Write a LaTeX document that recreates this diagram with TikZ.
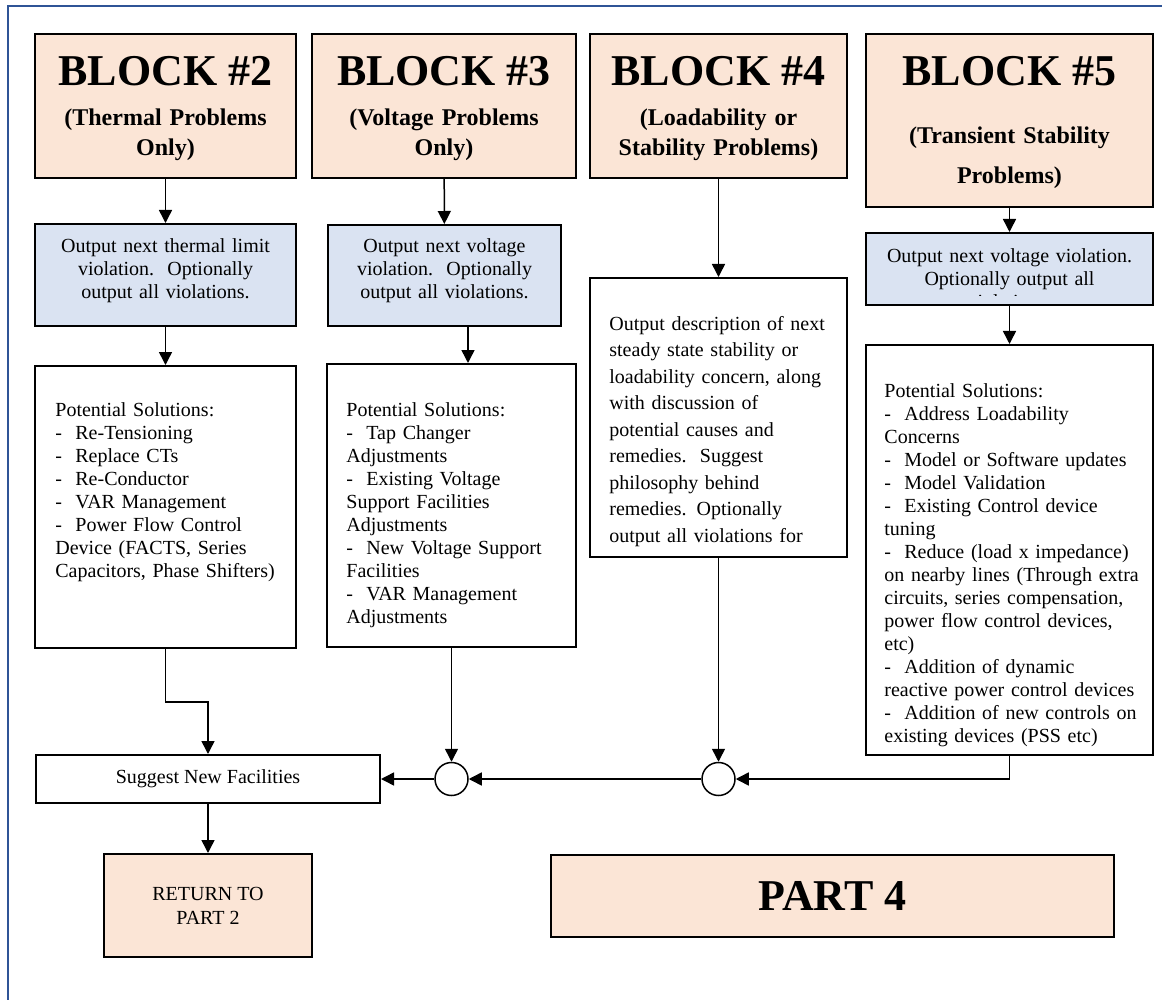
\documentclass[tikz,border=0pt]{standalone}
\usepackage{fontspec}
\setmainfont{Liberation Serif}
\usetikzlibrary{arrows.meta}
\definecolor{peche}{RGB}{251,229,214}
\definecolor{bleuclair}{RGB}{218,227,242}
\definecolor{cadre}{RGB}{47,84,150}

\begin{document}
\begin{tikzpicture}[x=0.5pt,y=-0.5pt]
	\tikzstyle{lien}=[->,line width=0.75pt]
	\tikzset{>={Triangle[length=6.5pt,width=6.5pt]}}
	\tikzset{boite/.style={draw,rectangle,line width=1pt,inner sep=0pt},bloc/.style={boite,fill=peche},sortie/.style={boite,fill=bleuclair}}
	\tikzset{texte/.style={inner sep=0pt,text width=#1,font=\fontsize{10}{11.5}\selectfont},texte/.default={125pt}}
	\tikzset{titre/.style={inner sep=0pt,font=\fontsize{22}{26}\selectfont\bfseries},soustitre/.style={inner sep=0pt,align=center,text width=135pt,font=\fontsize{12}{15}\selectfont\bfseries}}
	\tikzset{rond/.style={draw,circle,line width=0.75pt,fill=white,minimum size=16.5pt,inner sep=0pt}}
	\useasboundingbox (0,0) rectangle (1162,1000);
	\draw[cadre,line width=1pt] (7.5,1000) -- (7.5,6) -- (1162,6);
	\node[bloc,minimum width=130.5pt,minimum height=72pt] (b2) at (165.5,106) {};
	\node[bloc,minimum width=132pt,minimum height=72pt] (b3) at (444,106) {};
	\node[bloc,minimum width=128.5pt,minimum height=72pt] (b4) at (718.5,106) {};
	\node[bloc,minimum width=143.5pt,minimum height=86.5pt] (b5) at (1009.5,120.5) {};
	\node[sortie,minimum width=130.5pt,minimum height=51pt] (o2) at (165.5,275) {};
	\node[sortie,minimum width=116.5pt,minimum height=50.5pt] (o3) at (444.5,275.5) {};
	\node[sortie,minimum width=143.5pt,minimum height=36pt] (o5) at (1009.5,269) {};
	\node[boite,minimum width=130.5pt,minimum height=141pt] (s2) at (165.5,507) {};
	\node[boite,minimum width=124.5pt,minimum height=141.5pt] (s3) at (451.5,505.5) {};
	\node[boite,minimum width=128.5pt,minimum height=139.5pt] (s4) at (718.5,417.5) {};
	\node[boite,minimum width=143.5pt,minimum height=205pt] (s5) at (1009.5,550) {};
	\node[boite,minimum width=172pt,minimum height=24pt,font=\fontsize{10}{11.5}\selectfont] (f1) at (208,779) {Suggest New Facilities};
	\node[bloc,minimum width=104pt,minimum height=51.5pt,align=center,font=\fontsize{10}{12}\selectfont] (r1) at (208,905.5) {RETURN TO\\PART 2};
	\node[bloc,minimum width=281.5pt,minimum height=41pt,font=\fontsize{22}{26}\selectfont\bfseries] (p4) at (832.5,896) {PART 4};
	\node[rond] (c1) at (451.5,779) {};
	\node[rond] (c2) at (718.5,779) {};
	\node[titre,anchor=base] (tb2) at (165.5,86) {BLOCK \#2};
	\node[titre,anchor=base] (tb3) at (444,86) {BLOCK \#3};
	\node[titre,anchor=base] (tb4) at (718.5,86) {BLOCK \#4};
	\node[titre,anchor=base] (tb5) at (1009.5,86) {BLOCK \#5};
	\node[soustitre,anchor=north] (st2) at (165.5,104) {\strut(Thermal Problems\\Only)};
	\node[soustitre,anchor=north] (st3) at (444,104) {\strut(Voltage Problems\\Only)};
	\node[soustitre,anchor=north] (st4) at (718.5,104) {\strut(Loadability or\\Stability Problems)};
	\node[soustitre,anchor=north,font=\fontsize{12}{20.3}\selectfont\bfseries] (st5) at (1009.5,114.3) {\strut(Transient Stability\\Problems)};
	\node[texte,align=center,anchor=north] (to2) at (165.5,235.9) {\strut Output next thermal limit\\violation.\ \ Optionally\\output all violations.};
	\node[texte,align=center,anchor=north] (to3) at (444.5,235.9) {\strut Output next voltage\\violation.\ \ Optionally\\output all violations.};
	\begin{scope}
	\clip (o5.north west) rectangle (1153,296);
	\node[texte=140pt,align=center,anchor=north] (to5) at (1009.5,245.9) {\strut Output next voltage violation.\\Optionally output all\\violations.};
	\end{scope}
	\node[texte,align=left,anchor=north west] (ts2) at (55,399.9) {\strut Potential Solutions:\\-\ \ Re-Tensioning\\-\ \ Replace CTs\\-\ \ Re-Conductor\\-\ \ VAR Management\\-\ \ Power Flow Control\\Device (FACTS, Series\\Capacitors, Phase Shifters)};
	\node[texte,align=left,anchor=north west] (ts3) at (346,399.9) {\strut Potential Solutions:\\-\ \ Tap Changer\\Adjustments\\-\ \ Existing Voltage\\Support Facilities\\Adjustments\\-\ \ New Voltage Support\\Facilities\\-\ \ VAR Management\\Adjustments};
	\node[texte,align=left,anchor=north west,font=\fontsize{10}{13.25}\selectfont] (ts4) at (609,311.5) {\strut Output description of next\\steady state stability or\\loadability concern, along\\with discussion of\\potential causes and\\remedies.\ \ Suggest\\philosophy behind\\remedies. Optionally\\output all violations for};
	\node[texte=140pt,align=left,anchor=north west] (ts5) at (884,380.9) {\strut Potential Solutions:\\-\ \ Address Loadability\\Concerns\\-\ \ Model or Software updates\\-\ \ Model Validation\\-\ \ Existing Control device\\tuning\\-\ \ Reduce (load x impedance)\\on nearby lines (Through extra\\circuits, series compensation,\\power flow control devices,\\etc)\\-\ \ Addition of dynamic\\reactive power control devices\\-\ \ Addition of new controls on\\existing devices (PSS etc)};
	\draw[lien] (b2) -- (o2);
	\draw[lien] (b3) -- (o3);
	\draw[lien] (b4) -- (s4);
	\draw[lien] (b5) -- (o5);
	\draw[lien] (o2) -- (s2);
	\draw[lien] ([xshift=11.75pt]o3.south) -- ([xshift=8.25pt]s3.north);
	\draw[lien] (o5) -- (s5);
	\draw[lien] (s2.south) -- ++(0,53) -| (f1.north);
	\draw[lien] (s3) -- (c1);
	\draw[lien] (s4) -- (c2);
	\draw[lien] (s5.south) |- (c2.east);
	\draw[lien] (c2) -- (c1);
	\draw[lien] (c1) -- (f1);
	\draw[lien] (f1) -- (r1);
\end{tikzpicture}
\end{document}
